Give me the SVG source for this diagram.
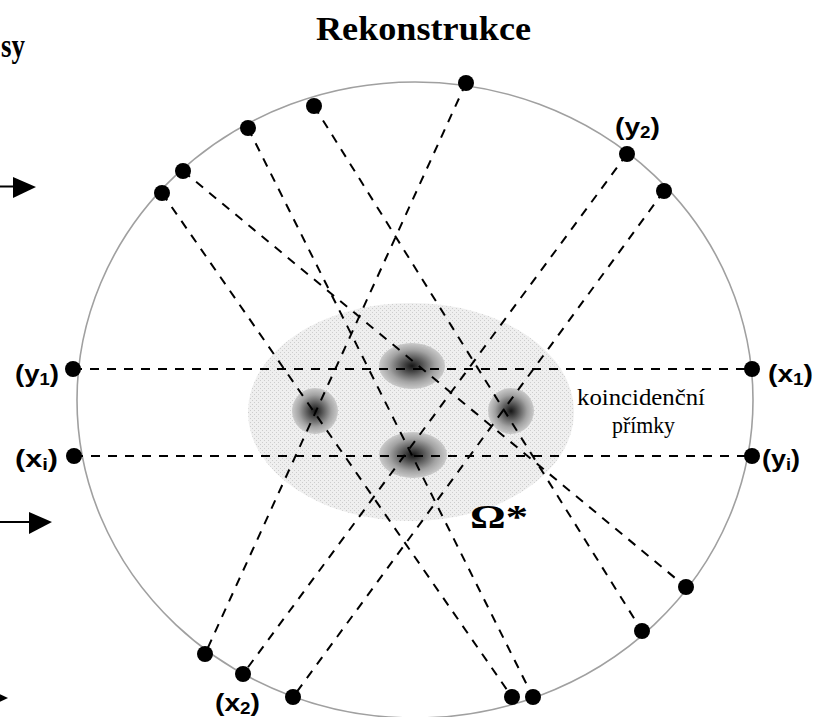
<svg xmlns="http://www.w3.org/2000/svg" width="816" height="717" viewBox="0 0 816 717">
<style>
.ring{fill:none;stroke:#a0a0a0;stroke-width:1.6}
.dl{fill:none;stroke:#000;stroke-width:2;stroke-dasharray:9 8}
.dot{fill:#000}
.lab{font-family:"Liberation Sans",Arial,sans-serif;font-weight:bold;font-size:24px;fill:#000}
.sub{font-size:16px}
.title{font-family:"Liberation Serif","Times New Roman",serif;font-weight:bold;font-size:33px;fill:#000}
.ser{font-family:"Liberation Serif","Times New Roman",serif;font-size:24px;fill:#000}
.arrow{fill:#000;stroke:#000;stroke-width:2}
</style>
<defs>
<pattern id="stip" width="4" height="4" patternUnits="userSpaceOnUse">
<rect width="4" height="4" fill="#efefef"/>
<rect x="0" y="0" width="1" height="1" fill="#cdcdcd"/>
<rect x="2" y="2" width="1" height="1" fill="#cdcdcd"/>
</pattern>
<radialGradient id="blob">
<stop offset="0" stop-color="#151515"/>
<stop offset="0.3" stop-color="#505050"/>
<stop offset="0.7" stop-color="#a2a2a2"/>
<stop offset="1" stop-color="#cacaca"/>
</radialGradient>
</defs>
<rect width="816" height="717" fill="#fff"/>

<g id="texts-top">
<text class="title" x="1" y="57" textLength="24" lengthAdjust="spacingAndGlyphs">sy</text>
<text class="title" x="316" y="40" textLength="215" lengthAdjust="spacingAndGlyphs">Rekonstrukce</text>
</g>

<g id="left-arrows">
<path class="arrow" d="M0 186.5H14"/>
<path d="M13 177L36 187L13 198Z" fill="#000"/>
<path class="arrow" d="M0 522H30"/>
<path d="M29 512L52 522L29 534Z" fill="#000"/>
<path d="M-15 687L8 698L-15 709Z" fill="#000"/>
</g>

<g id="ring">
<ellipse class="ring" cx="415" cy="400" rx="338" ry="318"/>
</g>

<g id="region-omega">
<ellipse cx="411" cy="412" rx="163" ry="109" fill="url(#stip)"/>
</g>

<g id="source-top"><ellipse cx="412" cy="366" rx="33" ry="23" fill="url(#blob)"/></g>
<g id="source-bottom"><ellipse cx="413" cy="455" rx="34" ry="23" fill="url(#blob)"/></g>
<g id="source-left"><ellipse cx="315" cy="411" rx="23" ry="23" fill="url(#blob)"/></g>
<g id="source-right"><ellipse cx="511" cy="411" rx="23" ry="23" fill="url(#blob)"/></g>

<g id="connectors">
<line class="dl" x1="73" y1="369" x2="752" y2="369"/>
<line class="dl" x1="74" y1="456" x2="752" y2="456"/>
<line class="dl" x1="162" y1="193" x2="512" y2="697"/>
<line class="dl" x1="183" y1="171" x2="686" y2="587"/>
<line class="dl" x1="248" y1="128" x2="533" y2="697"/>
<line class="dl" x1="314" y1="106" x2="642" y2="631"/>
<line class="dl" x1="466" y1="83" x2="205" y2="654"/>
<line class="dl" x1="627" y1="154" x2="243" y2="674"/>
<line class="dl" x1="664" y1="191" x2="293" y2="697"/>
</g>

<g id="d-u1"><circle class="dot" cx="162" cy="193" r="8"/></g>
<g id="d-u2"><circle class="dot" cx="183" cy="171" r="8"/></g>
<g id="d-u3"><circle class="dot" cx="248" cy="128" r="8"/></g>
<g id="d-u4"><circle class="dot" cx="314" cy="106" r="8"/></g>
<g id="d-u5"><circle class="dot" cx="466" cy="83" r="8"/></g>
<g id="d-y2"><circle class="dot" cx="627" cy="154" r="8"/>
<text class="lab" x="615" y="135" textLength="45" lengthAdjust="spacingAndGlyphs">(y<tspan class="sub" dy="3">2</tspan><tspan dy="-3">)</tspan></text></g>
<g id="d-u7"><circle class="dot" cx="664" cy="191" r="8"/></g>
<g id="d-l1"><circle class="dot" cx="205" cy="654" r="8"/></g>
<g id="d-x2"><circle class="dot" cx="243" cy="674" r="8"/>
<text class="lab" x="215" y="711" textLength="45" lengthAdjust="spacingAndGlyphs">(x<tspan class="sub" dy="3">2</tspan><tspan dy="-3">)</tspan></text></g>
<g id="d-l3"><circle class="dot" cx="293" cy="697" r="8"/></g>
<g id="d-l4"><circle class="dot" cx="512" cy="697" r="8"/></g>
<g id="d-l5"><circle class="dot" cx="533" cy="697" r="8"/></g>
<g id="d-l6"><circle class="dot" cx="642" cy="631" r="8"/></g>
<g id="d-l7"><circle class="dot" cx="686" cy="587" r="8"/></g>
<g id="d-y1"><circle class="dot" cx="73" cy="369" r="8"/>
<text class="lab" x="15" y="382" textLength="44" lengthAdjust="spacingAndGlyphs">(y<tspan class="sub" dy="3">1</tspan><tspan dy="-3">)</tspan></text></g>
<g id="d-xi"><circle class="dot" cx="74" cy="456" r="8"/>
<text class="lab" x="15" y="467" textLength="43" lengthAdjust="spacingAndGlyphs">(x<tspan class="sub" dy="3">i</tspan><tspan dy="-3">)</tspan></text></g>
<g id="d-x1"><circle class="dot" cx="752" cy="369" r="8"/>
<text class="lab" x="768" y="382" textLength="45" lengthAdjust="spacingAndGlyphs">(x<tspan class="sub" dy="3">1</tspan><tspan dy="-3">)</tspan></text></g>
<g id="d-yi"><circle class="dot" cx="752" cy="456" r="8"/>
<text class="lab" x="762" y="467" textLength="38" lengthAdjust="spacingAndGlyphs">(y<tspan class="sub" dy="3">i</tspan><tspan dy="-3">)</tspan></text></g>

<g id="labels">
<text class="ser" x="577" y="405" textLength="128" lengthAdjust="spacingAndGlyphs">koincidenční</text>
<text class="ser" x="612" y="433" textLength="63" lengthAdjust="spacingAndGlyphs">přímky</text>
<text class="title" x="470" y="528" font-size="38" textLength="58" lengthAdjust="spacingAndGlyphs">Ω*</text>
</g>
</svg>
